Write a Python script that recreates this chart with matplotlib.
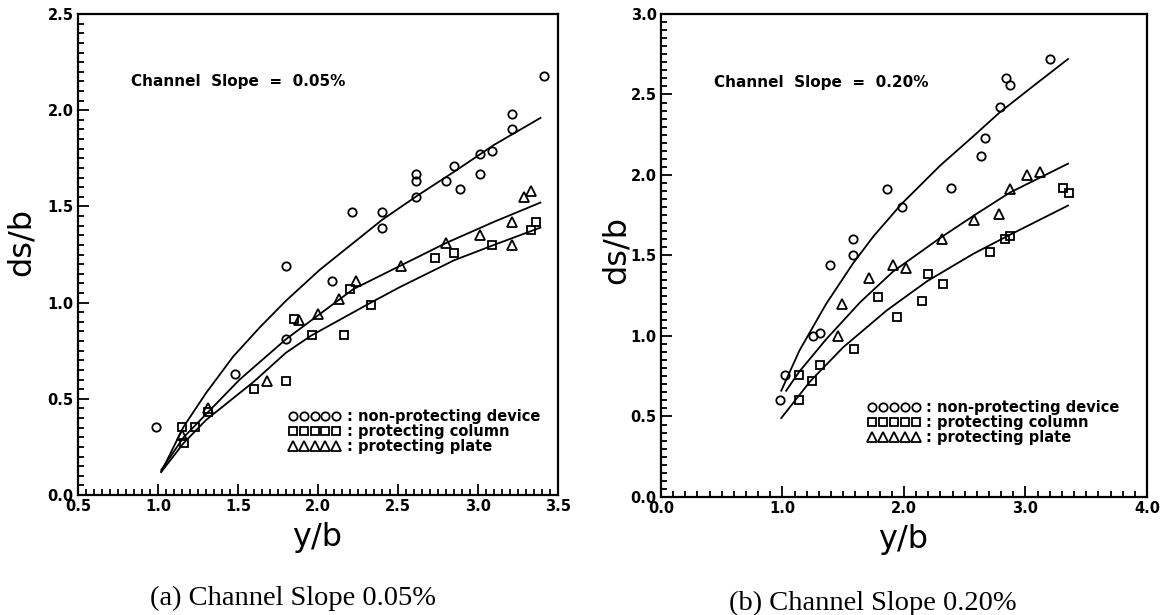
import matplotlib
matplotlib.use('Agg')
import matplotlib.pyplot as plt
from matplotlib.ticker import MultipleLocator, FormatStrFormatter

# ---- (a) channel slope 0.05% ----
a_none_x = [0.99, 1.48, 1.80, 1.80, 2.09, 2.21, 2.40, 2.40, 2.61, 2.61, 2.61, 2.80, 2.85, 2.89, 3.01, 3.01, 3.09, 3.21, 3.21, 3.41]
a_none_y = [0.355, 0.63, 0.81, 1.19, 1.11, 1.47, 1.47, 1.39, 1.55, 1.63, 1.67, 1.63, 1.71, 1.59, 1.77, 1.67, 1.79, 1.90, 1.98, 2.18]
a_col_x = [1.15, 1.16, 1.23, 1.31, 1.60, 1.80, 1.85, 1.96, 2.16, 2.20, 2.33, 2.73, 2.85, 3.09, 3.33, 3.36]
a_col_y = [0.355, 0.27, 0.355, 0.43, 0.55, 0.59, 0.915, 0.83, 0.83, 1.07, 0.99, 1.23, 1.26, 1.30, 1.38, 1.42]
a_plate_x = [1.15, 1.31, 1.68, 1.88, 2.00, 2.13, 2.24, 2.52, 2.80, 3.01, 3.21, 3.21, 3.29, 3.33]
a_plate_y = [0.31, 0.45, 0.59, 0.91, 0.94, 1.02, 1.11, 1.19, 1.31, 1.35, 1.30, 1.42, 1.55, 1.58]

# fitted curves
a_fit_none_x = [1.02, 1.16, 1.30, 1.47, 1.64, 1.80, 2.01, 2.22, 2.40, 2.61, 2.85, 3.10, 3.39]
a_fit_none_y = [0.12, 0.355, 0.53, 0.72, 0.875, 1.01, 1.17, 1.31, 1.43, 1.55, 1.68, 1.82, 1.96]
a_fit_plate_x = [1.02, 1.16, 1.30, 1.51, 1.80, 2.01, 2.22, 2.51, 2.80, 3.10, 3.39]
a_fit_plate_y = [0.13, 0.30, 0.42, 0.60, 0.81, 0.94, 1.07, 1.19, 1.31, 1.42, 1.52]
a_fit_col_x = [1.02, 1.16, 1.30, 1.60, 1.80, 1.96, 2.33, 2.51, 2.85, 3.10, 3.39]
a_fit_col_y = [0.12, 0.27, 0.39, 0.59, 0.74, 0.83, 1.00, 1.08, 1.22, 1.30, 1.39]

# ---- (b) channel slope 0.20% ----
b_none_x = [0.98, 1.02, 1.25, 1.31, 1.39, 1.58, 1.58, 1.86, 1.98, 2.39, 2.63, 2.67, 2.79, 2.84, 2.87, 3.20]
b_none_y = [0.60, 0.76, 1.00, 1.02, 1.44, 1.50, 1.60, 1.91, 1.80, 1.92, 2.12, 2.23, 2.42, 2.60, 2.56, 2.72]
b_col_x = [1.14, 1.14, 1.24, 1.31, 1.59, 1.79, 1.94, 2.15, 2.20, 2.32, 2.71, 2.83, 2.87, 3.31, 3.36]
b_col_y = [0.60, 0.76, 0.72, 0.82, 0.92, 1.24, 1.12, 1.22, 1.385, 1.32, 1.52, 1.60, 1.62, 1.92, 1.89]
b_plate_x = [1.46, 1.49, 1.71, 1.91, 2.02, 2.31, 2.58, 2.78, 2.87, 3.01, 3.12]
b_plate_y = [1.00, 1.20, 1.36, 1.44, 1.42, 1.60, 1.72, 1.76, 1.91, 2.00, 2.02]

b_fit_none_x = [0.99, 1.14, 1.36, 1.58, 1.75, 1.98, 2.30, 2.57, 2.79, 3.06, 3.35]
b_fit_none_y = [0.66, 0.91, 1.20, 1.45, 1.62, 1.82, 2.06, 2.24, 2.39, 2.55, 2.72]
b_fit_plate_x = [1.03, 1.14, 1.36, 1.64, 1.91, 2.30, 2.60, 2.87, 3.35]
b_fit_plate_y = [0.66, 0.78, 0.98, 1.21, 1.40, 1.61, 1.76, 1.89, 2.07]
b_fit_col_x = [0.99, 1.23, 1.50, 1.86, 2.19, 2.57, 2.85, 3.35]
b_fit_col_y = [0.49, 0.72, 0.93, 1.16, 1.34, 1.51, 1.62, 1.81]

labels = [': non-protecting device', ': protecting column', ': protecting plate']

plt.rcParams['font.family'] = ['DejaVu Sans']
fig = plt.figure(figsize=(11.68, 6.15), dpi=100)

def panel(rect, pts, fits, xlim, ylim, xmaj, xmin, ymaj, slope, leg_anchor, ylab_pos):
    ax = fig.add_axes(rect)
    mk = dict(ls='none', mfc='none', mec='k', mew=1.3)
    ax.plot(pts[0][0], pts[0][1], marker='o', ms=6, label=labels[0], **mk)
    ax.plot(pts[1][0], pts[1][1], marker='s', ms=6, label=labels[1], **mk)
    ax.plot(pts[2][0], pts[2][1], marker='^', ms=7, label=labels[2], **mk)
    for fx, fy in fits:
        ax.plot(fx, fy, color='k', lw=1.3)
    ax.set_xlim(*xlim)
    ax.set_ylim(*ylim)
    ax.xaxis.set_major_locator(MultipleLocator(xmaj))
    ax.xaxis.set_minor_locator(MultipleLocator(xmin))
    ax.yaxis.set_major_locator(MultipleLocator(ymaj))
    ax.yaxis.set_minor_locator(MultipleLocator(0.05))
    ax.xaxis.set_major_formatter(FormatStrFormatter('%.1f'))
    ax.yaxis.set_major_formatter(FormatStrFormatter('%.1f'))
    ax.tick_params(which='both', direction='in', top=False, right=False, width=1.3)
    ax.tick_params(which='major', length=8, labelsize=10.5, pad=3)
    ax.tick_params(which='minor', length=4)
    for t in ax.get_xticklabels() + ax.get_yticklabels():
        t.set_fontweight('bold')
    for s in ax.spines.values():
        s.set_linewidth(1.6)
    ax.set_xlabel('y/b', fontsize=23, va='center')
    ax.xaxis.set_label_coords(0.498, -0.088)
    ax.set_ylabel('ds/b', fontsize=23, va='center')
    ax.yaxis.set_label_coords(*ylab_pos)
    ax.text(0.11, 0.859, 'Channel  Slope  =  ' + slope, transform=ax.transAxes,
            fontsize=11, fontweight='bold', va='center')
    ax.legend(numpoints=5, frameon=False, loc='lower left', bbox_to_anchor=leg_anchor,
              borderaxespad=0, borderpad=0, handlelength=3.6, handletextpad=0.4,
              labelspacing=0.0, prop=dict(size=10.5, weight='bold'))
    return ax

panel([0.0668, 0.1951, 0.4110, 0.7821],
      [(a_none_x, a_none_y), (a_col_x, a_col_y), (a_plate_x, a_plate_y)],
      [(a_fit_none_x, a_fit_none_y), (a_fit_plate_x, a_fit_plate_y), (a_fit_col_x, a_fit_col_y)],
      (0.5, 3.5), (0.0, 2.5), 0.5, 0.05, 0.5, '0.05%', (0.438, 0.085), (-0.119, 0.526))

panel([0.5659, 0.1919, 0.4161, 0.7854],
      [(b_none_x, b_none_y), (b_col_x, b_col_y), (b_plate_x, b_plate_y)],
      [(b_fit_none_x, b_fit_none_y), (b_fit_plate_x, b_fit_plate_y), (b_fit_col_x, b_fit_col_y)],
      (0.0, 4.0), (0.0, 3.0), 1.0, 0.1, 0.5, '0.20%', (0.425, 0.107), (-0.092, 0.511))

fig.text(293 / 1168, 1 - 598 / 615, '(a) Channel Slope 0.05%', ha='center', va='center',
         family='Liberation Serif', fontsize=20.5)
fig.text(873 / 1168, 1 - 603 / 615, '(b) Channel Slope 0.20%', ha='center', va='center',
         family='Liberation Serif', fontsize=20.5)

fig.savefig('out.png', dpi=100)
